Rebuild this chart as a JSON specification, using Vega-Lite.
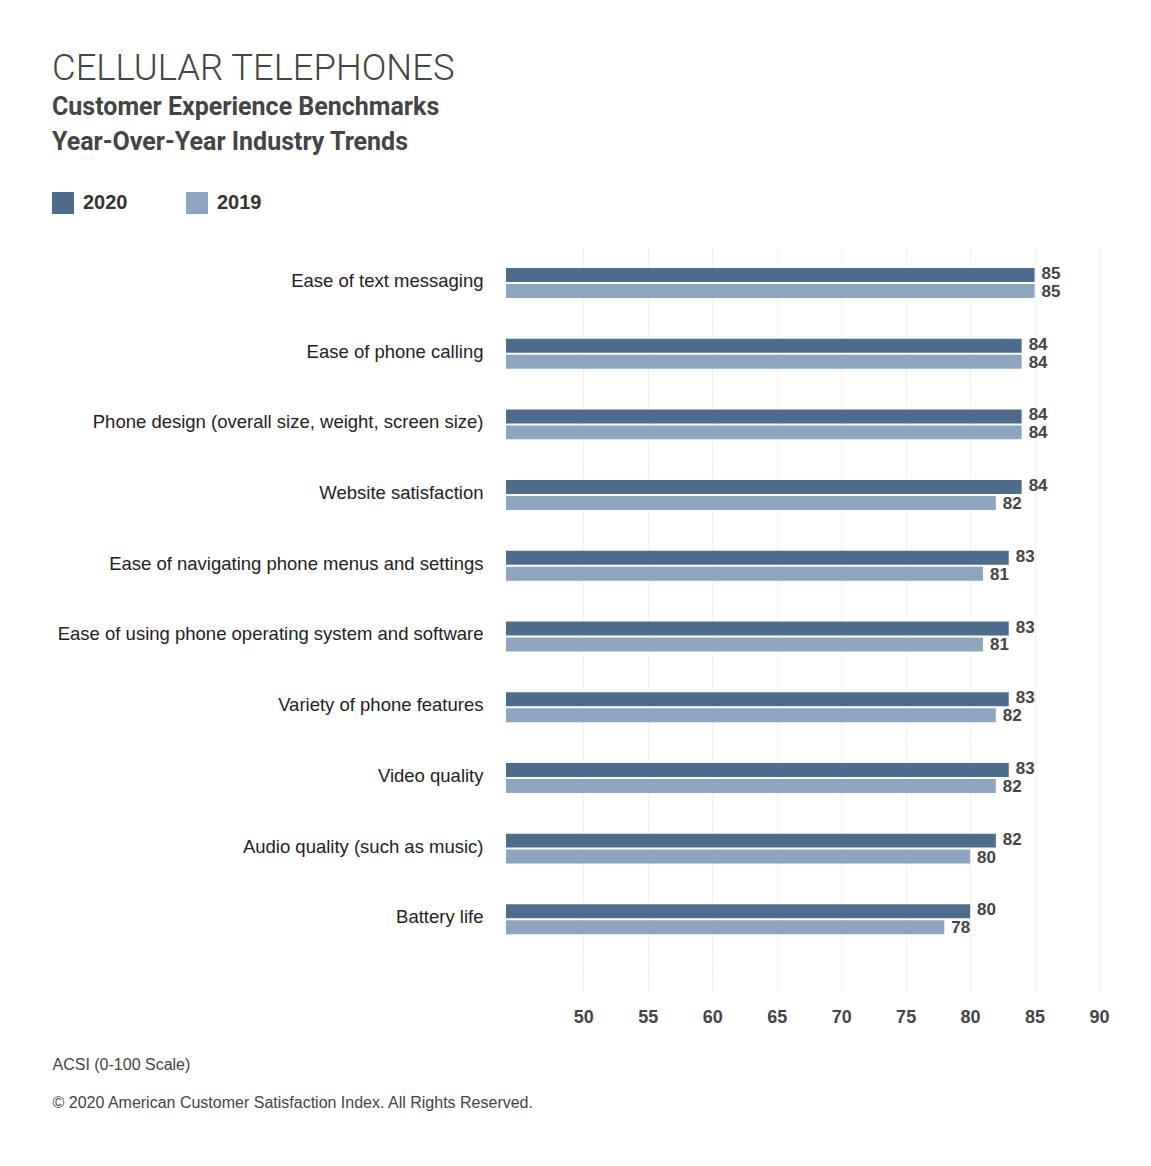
{
  "$schema": "https://vega.github.io/schema/vega-lite/v6.json",
  "width": 593,
  "height": 742,
  "autosize": {"type": "none"},
  "padding": {"left": 506, "top": 248, "right": 52, "bottom": 176},
  "background": "white",
  "title": {
    "text": "CELLULAR TELEPHONES",
    "subtitle": ["Customer Experience Benchmarks", "Year-Over-Year Industry Trends"],
    "anchor": "start",
    "frame": "group",
    "dx": -454,
    "offset": 37,
    "font": "Roboto",
    "fontSize": 36.4,
    "fontWeight": 300,
    "color": "#444444",
    "subtitleFont": "Roboto",
    "subtitleFontSize": 25,
    "subtitleFontWeight": "bold",
    "subtitleColor": "#444444",
    "subtitleLineHeight": 35,
    "subtitlePadding": 8
  },
  "config": {
    "view": {"stroke": null},
    "font": "Liberation Sans"
  },
  "data": {
    "values": [
      {"cat": "Ease of text messaging", "year": "2020", "value": 85},
      {"cat": "Ease of text messaging", "year": "2019", "value": 85},
      {"cat": "Ease of phone calling", "year": "2020", "value": 84},
      {"cat": "Ease of phone calling", "year": "2019", "value": 84},
      {"cat": "Phone design (overall size, weight, screen size)", "year": "2020", "value": 84},
      {"cat": "Phone design (overall size, weight, screen size)", "year": "2019", "value": 84},
      {"cat": "Website satisfaction", "year": "2020", "value": 84},
      {"cat": "Website satisfaction", "year": "2019", "value": 82},
      {"cat": "Ease of navigating phone menus and settings", "year": "2020", "value": 83},
      {"cat": "Ease of navigating phone menus and settings", "year": "2019", "value": 81},
      {"cat": "Ease of using phone operating system and software", "year": "2020", "value": 83},
      {"cat": "Ease of using phone operating system and software", "year": "2019", "value": 81},
      {"cat": "Variety of phone features", "year": "2020", "value": 83},
      {"cat": "Variety of phone features", "year": "2019", "value": 82},
      {"cat": "Video quality", "year": "2020", "value": 83},
      {"cat": "Video quality", "year": "2019", "value": 82},
      {"cat": "Audio quality (such as music)", "year": "2020", "value": 82},
      {"cat": "Audio quality (such as music)", "year": "2019", "value": 80},
      {"cat": "Battery life", "year": "2020", "value": 80},
      {"cat": "Battery life", "year": "2019", "value": 78}
    ]
  },
  "encoding": {
    "y": {
      "field": "cat",
      "type": "nominal",
      "sort": null,
      "scale": {"paddingInner": 0.576, "paddingOuter": 0.535, "align": 0.264},
      "axis": {
        "title": null,
        "domain": false,
        "ticks": false,
        "labelPadding": 23,
        "labelOffset": -2,
        "labelFontSize": 18.5,
        "labelColor": "#222222",
        "labelLimit": 600
      }
    },
    "yOffset": {
      "field": "year",
      "type": "nominal",
      "sort": ["2020", "2019"],
      "scale": {"paddingInner": 0.125}
    }
  },
  "layer": [
    {
      "mark": {"type": "bar", "cornerRadius": 0},
      "encoding": {
        "x": {
          "field": "value",
          "type": "quantitative",
          "scale": {"domain": [44, 90], "zero": false, "nice": false},
          "axis": {
            "values": [50, 55, 60, 65, 70, 75, 80, 85, 90],
            "domain": false,
            "ticks": false,
            "grid": true,
            "gridColor": "#d6d6d6",
            "gridDash": [1, 2],
            "gridWidth": 1,
            "labelFontSize": 18,
            "labelFontWeight": "bold",
            "labelColor": "#444444",
            "labelPadding": 18,
            "labelFlush": false,
            "title": ["ACSI (0-100 Scale)", "© 2020 American Customer Satisfaction Index. All Rights Reserved."],
            "titleFontSize": 16,
            "titleFontWeight": "normal",
            "titleColor": "#444444",
            "titleAnchor": "start",
            "titleAlign": "left",
            "titleBaseline": "top",
            "titleX": -454,
            "titleY": 66,
            "titleLineHeight": 38
          }
        },
        "x2": {"datum": 44},
        "color": {
          "field": "year",
          "type": "nominal",
          "scale": {"domain": ["2020", "2019"], "range": ["#4e6c8e", "#8ea5c0"]},
          "legend": {
            "orient": "none",
            "legendX": -454,
            "legendY": -56,
            "direction": "horizontal",
            "title": null,
            "padding": 0,
            "symbolType": "square",
            "symbolSize": 484,
            "symbolStrokeWidth": 0,
            "symbolOpacity": 1,
            "labelFontSize": 20,
            "labelFontWeight": "bold",
            "labelColor": "#333333",
            "labelOffset": 9,
            "columnPadding": 58
          }
        }
      }
    },
    {
      "transform": [{"filter": "datum.year === '2020'"}],
      "mark": {"type": "text", "align": "left", "baseline": "middle", "dx": 7, "dy": -1, "fontSize": 17, "fontWeight": "bold", "color": "#444444"},
      "encoding": {
        "x": {"field": "value", "type": "quantitative"},
        "text": {"field": "value", "type": "quantitative"}
      }
    },
    {
      "transform": [{"filter": "datum.year === '2019'"}],
      "mark": {"type": "text", "align": "left", "baseline": "middle", "dx": 7, "dy": 1, "fontSize": 17, "fontWeight": "bold", "color": "#444444"},
      "encoding": {
        "x": {"field": "value", "type": "quantitative"},
        "text": {"field": "value", "type": "quantitative"}
      }
    }
  ]
}
